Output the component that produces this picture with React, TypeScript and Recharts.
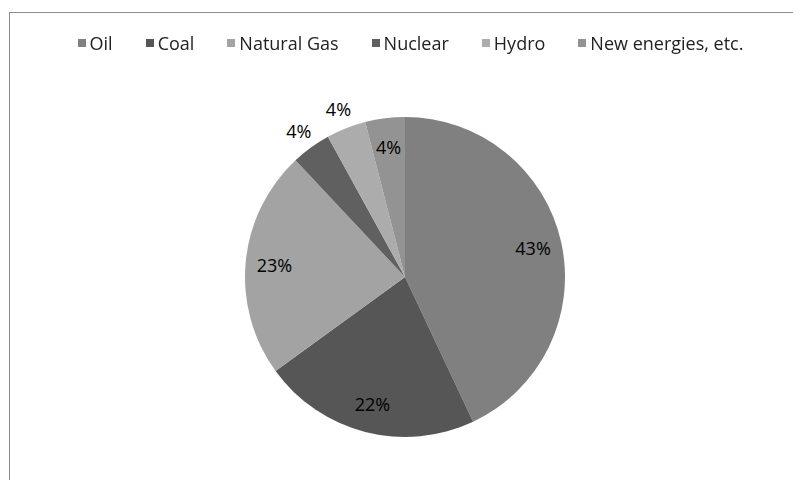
import { PieChart, Pie, Cell, Legend } from "recharts";

const sources = ["Oil", "Coal", "Natural Gas", "Nuclear", "Hydro", "New energies, etc."];
const shares = [43, 22, 23, 4, 4, 4];
const shades = ["#808080", "#565656", "#a3a3a3", "#606060", "#acacac", "#939393"];

// Excel put these two small slices' labels outside the pie
const outsideLabels = ["Nuclear", "Hydro"];

const data = sources.map((name, i) => ({ name, value: shares[i] }));

const RADIAN = Math.PI / 180;

const renderLabel = (props: any) => {
  const { cx, cy, midAngle, outerRadius, value, name } = props;
  const r = outsideLabels.includes(name) ? outerRadius * 1.13 : outerRadius * 0.82;
  const x = cx + r * Math.cos(-midAngle * RADIAN);
  const y = cy + r * Math.sin(-midAngle * RADIAN);
  return (
    <text
      x={x}
      y={y}
      fill="#000"
      fontSize={18}
      textAnchor="middle"
      dominantBaseline="central"
    >
      {`${value}%`}
    </text>
  );
};

// keep legend in the data order (recharts sorts it by name otherwise)
const renderLegend = (props: any) => {
  const items = [...(props.payload || [])].sort(
    (a: any, b: any) => sources.indexOf(a.value) - sources.indexOf(b.value)
  );
  return (
    <div style={{ display: "flex", justifyContent: "center", gap: 33 }}>
      {items.map((entry: any) => (
        <div key={entry.value} style={{ display: "flex", alignItems: "center" }}>
          <span
            style={{
              display: "inline-block",
              width: 8,
              height: 8,
              background: entry.color,
              marginRight: 4,
            }}
          />
          <span style={{ fontSize: 18, color: "#222" }}>{entry.value}</span>
        </div>
      ))}
    </div>
  );
};

const App = () => {
  return (
    <div
      style={{
        position: "fixed",
        left: 0,
        top: 0,
        width: 793,
        height: 480,
        background: "#fff",
        fontFamily: "'Open Sans', sans-serif",
      }}
    >
      <div
        style={{
          position: "absolute",
          left: 9,
          top: 12,
          right: 0,
          bottom: 0,
          borderLeft: "1px solid #8c8c8c",
          borderTop: "1px solid #8c8c8c",
        }}
      />
      <div style={{ position: "absolute", left: 0, top: 0 }}>
        <PieChart width={793} height={480} margin={{ top: 31, right: 0, bottom: 0, left: 0 }}>
          <Legend
            verticalAlign="top"
            align="center"
            content={renderLegend}
            wrapperStyle={{ left: 14, width: 793 }}
          />
          <Pie
            data={data}
            dataKey="value"
            nameKey="name"
            cx={405}
            cy={222}
            outerRadius={160}
            startAngle={90}
            endAngle={-270}
            stroke="none"
            labelLine={false}
            label={renderLabel}
            isAnimationActive={false}
          >
            {data.map((d, i) => (
              <Cell key={d.name} fill={shades[i]} />
            ))}
          </Pie>
        </PieChart>
      </div>
    </div>
  );
};

export default App;
